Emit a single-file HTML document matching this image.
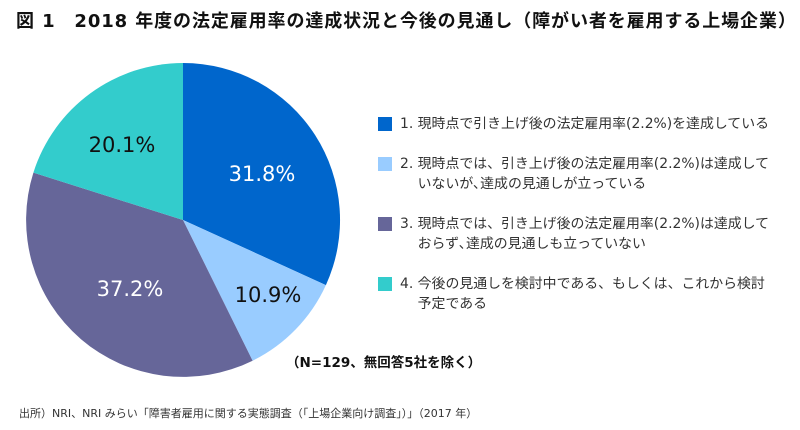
<!DOCTYPE html>
<html><head><meta charset="utf-8"><style>
body{margin:0;width:800px;height:430px;background:#fff;overflow:hidden;position:relative;font-family:"DejaVu Sans","Noto Sans CJK JP",sans-serif;color:#222}
.t{position:absolute;white-space:nowrap}
.sq{position:absolute;width:14px;height:14px;left:378px}
.lg{position:absolute;left:400px;font-size:13.9px;line-height:20px;color:#333}
</style></head><body>
<div class="t" style="left:16px;top:7px;font-size:18px;font-weight:bold;color:#111;letter-spacing:0.9px">図 1　2018 年度の法定雇用率の達成状況と今後の見通し（障がい者を雇用する上場企業）</div>
<svg width="800" height="430" style="position:absolute;left:0;top:0">
<path d="M183,220 L183,63 A157,157 0 0 1 325.9,285.1 Z" fill="#0066cc"/>
<path d="M183,220 L325.9,285.1 A157,157 0 0 1 252.6,360.7 Z" fill="#99ccff"/>
<path d="M183,220 L252.6,360.7 A157,157 0 0 1 33.4,172.6 Z" fill="#666699"/>
<path d="M183,220 L33.4,172.6 A157,157 0 0 1 183,63 Z" fill="#33cccc"/>
<g font-family="DejaVu Sans, sans-serif" font-size="21">
<text x="262" y="181" fill="#fff" text-anchor="middle">31.8%</text>
<text x="268" y="302" fill="#111" text-anchor="middle">10.9%</text>
<text x="130" y="296" fill="#fff" text-anchor="middle">37.2%</text>
<text x="122" y="152" fill="#111" text-anchor="middle">20.1%</text>
</g>
</svg>
<div class="sq" style="top:117px;background:#0066cc"></div>
<div class="lg" style="top:114px">1. 現時点で引き上げ後の法定雇用率(2.2%)を達成している</div>
<div class="sq" style="top:157px;background:#99ccff"></div>
<div class="lg" style="top:154px">2. 現時点では、引き上げ後の法定雇用率(2.2%)は達成して<br>&nbsp;&nbsp;&nbsp;&nbsp;いないが､達成の見通しが立っている</div>
<div class="sq" style="top:217px;background:#666699"></div>
<div class="lg" style="top:214px">3. 現時点では、引き上げ後の法定雇用率(2.2%)は達成して<br>&nbsp;&nbsp;&nbsp;&nbsp;おらず､達成の見通しも立っていない</div>
<div class="sq" style="top:277px;background:#33cccc"></div>
<div class="lg" style="top:274px">4. 今後の見通しを検討中である、もしくは、これから検討<br>&nbsp;&nbsp;&nbsp;&nbsp;予定である</div>
<div class="t" style="left:286px;top:351px;font-size:13.5px;font-weight:bold;color:#111">（N=129、無回答5社を除く）</div>
<div class="t" style="left:19px;top:405px;font-size:11px;color:#333">出所）NRI、NRI みらい「障害者雇用に関する実態調査（「上場企業向け調査」）」（2017 年）</div>
</body></html>
